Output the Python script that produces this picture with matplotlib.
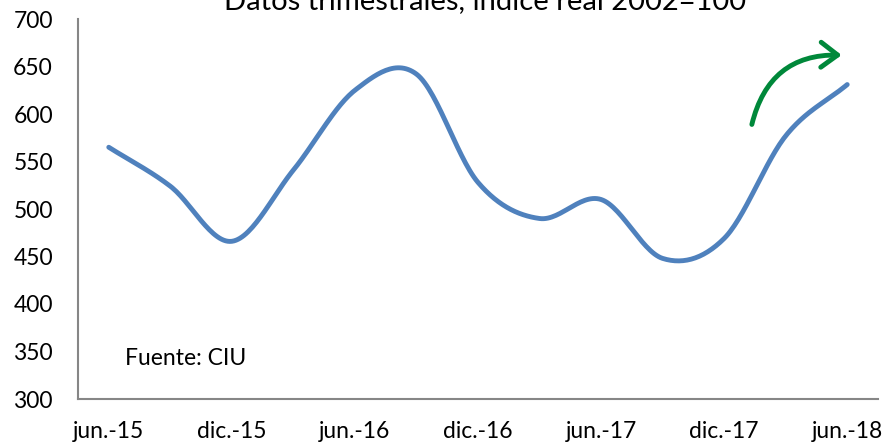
import numpy as np
import matplotlib
matplotlib.use("Agg")
import matplotlib.pyplot as plt
from matplotlib.patches import FancyArrowPatch

quarters = ["jun.-15", "sep.-15", "dic.-15", "mar.-16", "jun.-16", "sep.-16", "dic.-16",
            "mar.-17", "jun.-17", "sep.-17", "dic.-17", "mar.-18", "jun.-18"]
values = [565, 524, 466, 541, 625, 642, 528, 490, 510, 448, 469, 577, 631]
tick_labels = ["jun.-15", "dic.-15", "jun.-16", "dic.-16", "jun.-17", "dic.-17", "jun.-18"]
title = "Datos trimestrales, índice real 2002=100"
source = "Fuente: CIU"

plt.rcParams['font.family'] = ['Lato', 'DejaVu Sans']

def catmull_rom(x, y, n=30):
    x = np.asarray(x, float); y = np.asarray(y, float)
    px = np.concatenate([[2*x[0]-x[1]], x, [2*x[-1]-x[-2]]])
    py = np.concatenate([[2*y[0]-y[1]], y, [2*y[-1]-y[-2]]])
    xs, ys = [], []
    for i in range(1, len(px)-2):
        t = np.linspace(0, 1, n, endpoint=(i == len(px)-3))
        for P, out in ((px, xs), (py, ys)):
            p0, p1, p2, p3 = P[i-1], P[i], P[i+1], P[i+2]
            out.extend(0.5*((2*p1) + (-p0+p2)*t + (2*p0-5*p1+4*p2-p3)*t**2 + (-p0+3*p1-3*p2+p3)*t**3))
    return np.array(xs), np.array(ys)

fig = plt.figure(figsize=(8.9, 4.47), dpi=100)
ax = fig.add_axes([78/890, 1-399/447, 800/890, 380/447])

xi = np.arange(len(values))
sx, sy = catmull_rom(xi, values)
ax.plot(sx, sy, color="#4F81BD", lw=3.5, solid_capstyle='round')

ax.set_xlim(-0.5, 12.5)
ax.set_ylim(300, 700)
ax.set_yticks(np.arange(300, 701, 50))
ax.set_xticks([quarters.index(t) for t in tick_labels])
ax.set_xticklabels(tick_labels)
ax.tick_params(axis='both', length=0, labelsize=16.5, colors='black')
ax.tick_params(axis='y', pad=18)
ax.tick_params(axis='x', pad=16)
for s in ['top', 'right']:
    ax.spines[s].set_visible(False)
for s in ['left', 'bottom']:
    ax.spines[s].set_color('#868686')
    ax.spines[s].set_linewidth(1.5)

ax.text(0.264, 343, source, fontsize=16.5, va='center', ha='left')

arrow = FancyArrowPatch((10.45, 589), (11.91, 662), connectionstyle="arc3,rad=-0.4",
                        arrowstyle="->,head_length=0.6,head_width=0.45", mutation_scale=20,
                        color="#00883A", lw=3.5, capstyle='round', shrinkA=0, shrinkB=0)
ax.add_patch(arrow)

fig.text(485/890, 1-9/447, title, fontsize=21, ha='center', va='baseline')

fig.savefig("out.png", dpi=100)
